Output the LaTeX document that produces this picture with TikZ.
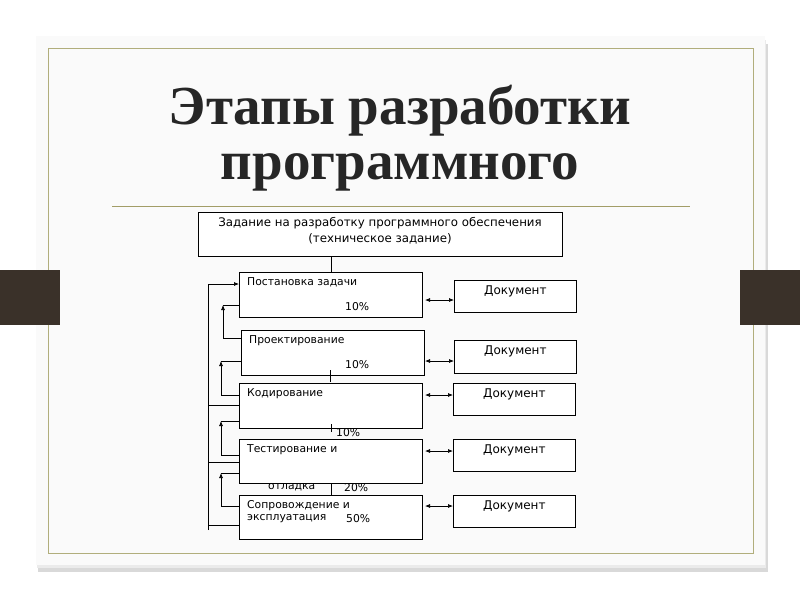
\documentclass[tikz,border=0pt]{standalone}
\usepackage{fontspec}
\usetikzlibrary{arrows.meta}
\setmainfont{Liberation Serif}
\newfontfamily\boxfont{DejaVu Sans}
\definecolor{barc}{HTML}{3A3129}
\begin{document}
\begin{tikzpicture}[x=1pt,y=-1pt,
  stage/.style={draw,fill=white,line width=0.8pt},
  lbl/.style={font=\boxfont\fontsize{10.8}{12}\selectfont,anchor=north west,inner sep=0},
  doclbl/.style={font=\boxfont\fontsize{12}{13}\selectfont,anchor=north,inner sep=0},
  con/.style={line width=0.7pt},
  arr/.style={line width=0.7pt,-{Latex[length=5pt,width=4pt]}},
  darr/.style={line width=0.7pt,{Latex[length=5pt,width=4pt]}-{Latex[length=5pt,width=4pt]}}]
\useasboundingbox (0,0) rectangle (800,600);
\fill[white] (0,0) rectangle (800,600);
\fill[black!15] (38,44) rectangle (768,572);
\fill[black!8] (37,40) rectangle (766,568);
\fill[black!2] (36,36) rectangle (765,565);
\draw[olive!60!black!50,line width=0.6pt] (48,48) rectangle (753,553);
\fill[barc] (0,270) rectangle (60,325);
\fill[barc] (740,270) rectangle (800,325);
\node[font=\bfseries\fontsize{55}{55}\selectfont,text=black!85,align=center] (title) at (400,138) {Этапы разработки\\программного};
\draw[olive!60!black!60,line width=0.6pt] (112,206) -- (690,206);
% boxes
\node[stage,minimum width=364,minimum height=44,anchor=north west] (top) at (198,212) {};
\node[align=center,font=\boxfont\fontsize{11.8}{16}\selectfont] (toptext) at (380,231) {Задание на разработку программного обеспечения\\(техническое задание)};
\node[stage,minimum width=183,minimum height=45,anchor=north west] (b1) at (239,272) {};
\node[stage,minimum width=183,minimum height=45,anchor=north west] (b2) at (241,330) {};
\node[stage,minimum width=183,minimum height=45,anchor=north west] (b3) at (239,383) {};
\node[stage,minimum width=183,minimum height=44,anchor=north west] (b4) at (239,439) {};
\node[stage,minimum width=183,minimum height=44,anchor=north west] (b5) at (239,495) {};
\node[stage,minimum width=122,minimum height=32,anchor=north west] (d1) at (454,280) {};
\node[stage,minimum width=122,minimum height=33,anchor=north west] (d2) at (454,340) {};
\node[stage,minimum width=122,minimum height=32,anchor=north west] (d3) at (453,383) {};
\node[stage,minimum width=122,minimum height=32,anchor=north west] (d4) at (453,439) {};
\node[stage,minimum width=122,minimum height=32,anchor=north west] (d5) at (453,495) {};
\foreach \d in {d1,d2,d3,d4,d5}{\node[doclbl] at ([yshift=-6]\d.north) {Документ};}
\node[lbl] (l1) at (247,277) {Постановка задачи};
\node[lbl] (p1) at (345,302) {10\%};
\node[lbl] (l2) at (249,335) {Проектирование};
\node[lbl] (p2) at (345,360) {10\%};
\node[lbl] (l3) at (247,388) {Кодирование};
\node[lbl] (p3) at (336,428) {10\%};
\node[lbl] (l4) at (247,444) {Тестирование и};
\node[lbl] (l4b) at (268,483) {отладка};
\node[lbl] (p4) at (344,483) {20\%};
\node[lbl] (l5) at (247,500) {Сопровождение и};
\node[lbl] (l5b) at (247,514) {эксплуатация};
\node[lbl] (p5) at (346,514) {50\%};
% connectors
\draw[con] (top.south -| 331,0) -- (331,272);
\draw[con] (330,370) -- (330,382);
\draw[con] (331,424) -- (331,432);
\draw[con] (331,483) -- (331,495);
\foreach \b/\d/\y in {b1/d1/300,b2/d2/361,b3/d3/395,b4/d4/451,b5/d5/506}{
  \draw[darr] (425,\y) -- (\d.west |- 0,\y);}
\draw[con] (208,530) -- (208,284);
\draw[arr] (208,284) -- (b1.west |- 0,284);
\foreach \y in {405,462,525}{\draw[con] (208,\y) -- (239,\y);}
\draw[con] (b1.west |- 0,305) -- (223,305);
\draw[arr] (b2.west |- 0,338) -| (223,305);
\draw[con] (221,361) -- (b2.west |- 0,361);
\draw[arr] (b3.west |- 0,395) -| (221,361);
\draw[con] (221,421) -- (b3.west |- 0,421);
\draw[arr] (b4.west |- 0,455) -| (221,421);
\draw[con] (221,473) -- (b4.west |- 0,473);
\draw[arr] (b5.west |- 0,506) -| (221,473);
\end{tikzpicture}
\end{document}
